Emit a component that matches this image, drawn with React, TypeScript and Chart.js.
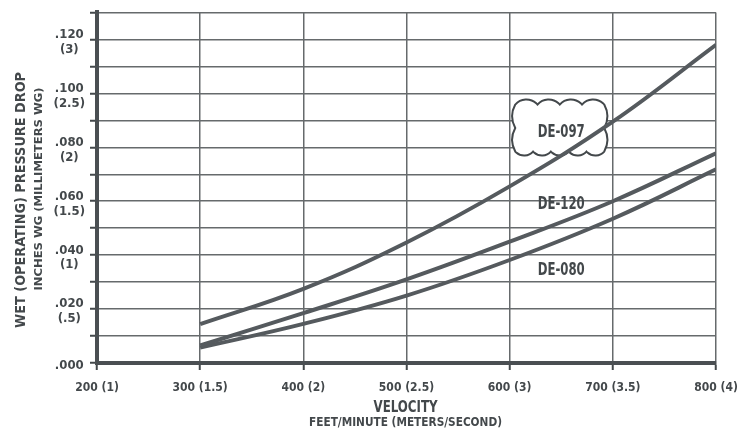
import React, { useEffect, useRef } from 'react';
import { Chart, registerables } from 'chart.js';

Chart.register(...registerables);

// ---- data ----
const velocityFpm = [300, 400, 500, 600, 700, 800];
const seriesNames = ['DE-097', 'DE-120', 'DE-080'];
const de097 = [0.0144, 0.0275, 0.0447, 0.0655, 0.0895, 0.118];
const de120 = [0.0065, 0.0185, 0.031, 0.045, 0.06, 0.0778];
const de080 = [0.0057, 0.0145, 0.025, 0.0382, 0.0535, 0.0718];

const xTickValues = [200, 300, 400, 500, 600, 700, 800];
const xTickLabels = ['200 (1)', '300 (1.5)', '400 (2)', '500 (2.5)', '600 (3)', '700 (3.5)', '800 (4)'];
const yTickValues = [0, 0.01, 0.02, 0.03, 0.04, 0.05, 0.06, 0.07, 0.08, 0.09, 0.1, 0.11, 0.12, 0.13];
const yTickInches = ['.000', '', '.020', '', '.040', '', '.060', '', '.080', '', '.100', '', '.120', ''];
const yTickMm = ['', '', '(.5)', '', '(1)', '', '(1.5)', '', '(2)', '', '(2.5)', '', '(3)', ''];

// curve label anchors (data units)
const labelVelocity = [650, 650, 650];
const labelPressure = [0.0862, 0.0595, 0.0349];

const yTitle = 'WET (OPERATING) PRESSURE DROP';
const ySubTitle = 'INCHES WG (MILLIMETERS WG)';
const xTitle = 'VELOCITY';
const xSubTitle = 'FEET/MINUTE (METERS/SECOND)';

const FONT = '"DejaVu Sans Condensed", "DejaVu Sans", sans-serif';
const INK = '#43484b';
const CURVE = '#555a5e';
const GRID = '#666a6c';

function drawFitted(
  ctx: CanvasRenderingContext2D,
  text: string,
  cx: number,
  cy: number,
  size: number,
  width: number,
  angle: number
) {
  ctx.save();
  ctx.translate(cx, cy);
  ctx.rotate(angle);
  ctx.font = `bold ${size}px ${FONT}`;
  const w = ctx.measureText(text).width;
  ctx.scale(width / w, 1);
  ctx.textAlign = 'center';
  ctx.textBaseline = 'alphabetic';
  ctx.fillStyle = INK;
  ctx.fillText(text, 0, size * 0.365);
  ctx.restore();
}

function bump(ctx: CanvasRenderingContext2D, ax: number, ay: number, bx: number, by: number, b: number) {
  const mx = (ax + bx) / 2;
  const my = (ay + by) / 2;
  const dx = bx - ax;
  const dy = by - ay;
  const s = Math.hypot(dx, dy);
  const nx = dy / s;
  const ny = -dx / s;
  const R = (s * s) / 4 / (2 * b) + b / 2;
  const cx = mx - nx * (R - b);
  const cy = my - ny * (R - b);
  const a1 = Math.atan2(ay - cy, ax - cx);
  const a2 = Math.atan2(by - cy, bx - cx);
  ctx.arc(cx, cy, R, a1, a2, false);
}

function drawCloud(ctx: CanvasRenderingContext2D, x0: number, y0: number, x1: number, y1: number) {
  ctx.save();
  ctx.beginPath();
  const nTop = 4, nRight = 2, nBottom = 5, nLeft = 2;
  const w = x1 - x0, h = y1 - y0;
  ctx.moveTo(x0, y0);
  for (let i = 0; i < nTop; i++) bump(ctx, x0 + (i * w) / nTop, y0, x0 + ((i + 1) * w) / nTop, y0, 5);
  for (let i = 0; i < nRight; i++) bump(ctx, x1, y0 + (i * h) / nRight, x1, y0 + ((i + 1) * h) / nRight, 3);
  for (let i = 0; i < nBottom; i++) bump(ctx, x1 - (i * w) / nBottom, y1, x1 - ((i + 1) * w) / nBottom, y1, 4);
  for (let i = 0; i < nLeft; i++) bump(ctx, x0, y1 - (i * h) / nLeft, x0, y1 - ((i + 1) * h) / nLeft, 3);
  ctx.closePath();
  ctx.fillStyle = '#ffffff';
  ctx.fill();
  ctx.lineWidth = 2;
  ctx.strokeStyle = INK;
  ctx.stroke();
  ctx.restore();
}

const decorPlugin = {
  id: 'decor',
  beforeDatasetsDraw(chart: any) {
    const { ctx, scales } = chart;
    const px = scales.x.getPixelForValue(labelVelocity[0]);
    const py = scales.y.getPixelForValue(labelPressure[0]);
    drawCloud(ctx, px - 46, py - 26, px + 43, py + 21);
  },
  afterDatasetsDraw(chart: any) {
    const { ctx, scales } = chart;
    seriesNames.forEach((name, i) => {
      const px = scales.x.getPixelForValue(labelVelocity[i]);
      const py = scales.y.getPixelForValue(labelPressure[i]);
      drawFitted(ctx, name, px, py, 17, 47, 0);
    });
  },
  afterDraw(chart: any) {
    const { ctx, chartArea } = chart;
    const cx = (chartArea.left + chartArea.right) / 2 - 1;
    drawFitted(ctx, xTitle, cx, 406, 16, 64, 0);
    drawFitted(ctx, xSubTitle, cx, 422, 12, 193, 0);
    drawFitted(ctx, yTitle, 20, 200, 14, 256, -Math.PI / 2);
    drawFitted(ctx, ySubTitle, 38, 189, 10.5, 203, -Math.PI / 2);
  },
};

export default function App() {
  const canvasRef = useRef<HTMLCanvasElement | null>(null);

  useEffect(() => {
    const canvas = canvasRef.current;
    if (!canvas) return;
    const mk = (data: number[]) => velocityFpm.map((v, i) => ({ x: v, y: data[i] }));
    const chart = new Chart(canvas, {
      type: 'line',
      data: {
        datasets: [de097, de120, de080].map((d, i) => ({
          label: seriesNames[i],
          data: mk(d),
          borderColor: CURVE,
          borderWidth: 4,
          pointRadius: 0,
          fill: false,
          tension: 0.4,
        })),
      },
      options: {
        responsive: false,
        animation: false,
        layout: { padding: { top: 9, right: 33, left: 0, bottom: 0 } },
        plugins: { legend: { display: false }, tooltip: { enabled: false }, title: { display: false } },
        scales: {
          x: {
            type: 'linear',
            min: 200,
            max: 800,
            afterBuildTicks: (scale: any) => {
              scale.ticks = xTickValues.map((v) => ({ value: v }));
            },
            afterFit: (scale: any) => {
              scale.height = 70;
            },
            grid: { color: GRID, lineWidth: 1.5, tickLength: 7, tickColor: INK, tickWidth: 2 },
            border: { display: true, color: '#4a4f52', width: 4 },
            ticks: {
              autoSkip: false,
              maxRotation: 0,
              padding: 11,
              color: INK,
              font: { family: FONT, size: 12, weight: 'bold' },
              callback: (_v: any, i: number) => xTickLabels[i],
            },
          },
          y: {
            type: 'linear',
            min: 0,
            max: 0.13,
            afterBuildTicks: (scale: any) => {
              scale.ticks = yTickValues.map((v) => ({ value: v }));
            },
            afterFit: (scale: any) => {
              scale.width = 97;
            },
            grid: { color: GRID, lineWidth: 1.5, tickLength: 7, tickColor: INK, tickWidth: 2 },
            border: { display: true, color: '#4a4f52', width: 4 },
            ticks: {
              autoSkip: false,
              crossAlign: 'center',
              labelOffset: 2.5,
              padding: 5,
              color: INK,
              font: { family: FONT, size: 13, weight: 'bold', lineHeight: 1.15 },
              callback: (_v: any, i: number) =>
                yTickMm[i] ? [yTickInches[i], yTickMm[i]] : yTickInches[i],
            },
          },
        },
      },
      plugins: [decorPlugin],
    } as any);
    return () => chart.destroy();
  }, []);

  return (
    <div style={{ position: 'absolute', left: 0, top: 0, width: 749, height: 433, background: '#fff' }}>
      <canvas ref={canvasRef} width={749} height={433} style={{ display: 'block', width: 749, height: 433 }} />
    </div>
  );
}
